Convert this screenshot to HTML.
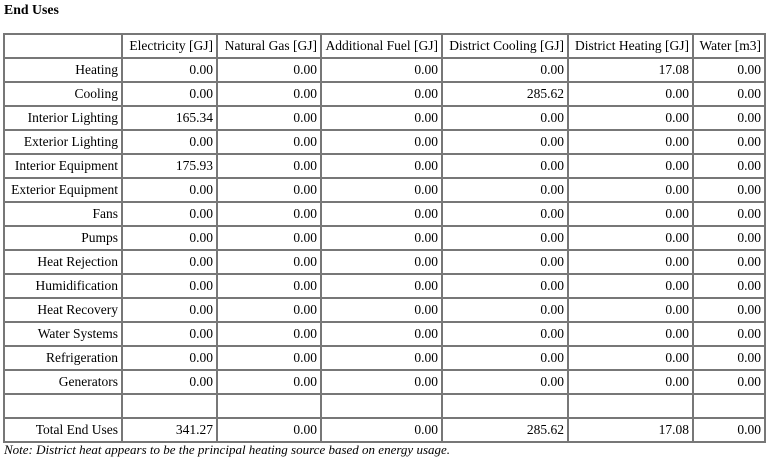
<!DOCTYPE html>
<html><head><meta charset="utf-8"><style>
body{margin:0;background:#fff;font-family:"Liberation Serif",serif;font-size:13.5px;color:#000;}
.t{position:absolute;left:4px;top:2px;font-weight:bold;font-size:13.8px;}
table{position:absolute;left:3px;top:33px;width:761px;border-collapse:collapse;table-layout:fixed;border:2px solid #777;}
td{border:2px solid #777;height:22px;padding:0 3px 0 0;text-align:right;white-space:nowrap;line-height:22px;overflow:hidden;}
.n{position:absolute;left:4px;top:442px;font-style:italic;font-size:13px;}
</style></head><body>
<div class="t">End Uses</div>
<table>
<colgroup><col style="width:118px"><col style="width:95px"><col style="width:104px"><col style="width:121px"><col style="width:126px"><col style="width:125px"><col style="width:72px"></colgroup>
<tr><td></td><td>Electricity [GJ]</td><td>Natural Gas [GJ]</td><td>Additional Fuel [GJ]</td><td>District Cooling [GJ]</td><td>District Heating [GJ]</td><td>Water [m3]</td></tr>
<tr><td>Heating</td><td>0.00</td><td>0.00</td><td>0.00</td><td>0.00</td><td>17.08</td><td>0.00</td></tr>
<tr><td>Cooling</td><td>0.00</td><td>0.00</td><td>0.00</td><td>285.62</td><td>0.00</td><td>0.00</td></tr>
<tr><td>Interior Lighting</td><td>165.34</td><td>0.00</td><td>0.00</td><td>0.00</td><td>0.00</td><td>0.00</td></tr>
<tr><td>Exterior Lighting</td><td>0.00</td><td>0.00</td><td>0.00</td><td>0.00</td><td>0.00</td><td>0.00</td></tr>
<tr><td>Interior Equipment</td><td>175.93</td><td>0.00</td><td>0.00</td><td>0.00</td><td>0.00</td><td>0.00</td></tr>
<tr><td>Exterior Equipment</td><td>0.00</td><td>0.00</td><td>0.00</td><td>0.00</td><td>0.00</td><td>0.00</td></tr>
<tr><td>Fans</td><td>0.00</td><td>0.00</td><td>0.00</td><td>0.00</td><td>0.00</td><td>0.00</td></tr>
<tr><td>Pumps</td><td>0.00</td><td>0.00</td><td>0.00</td><td>0.00</td><td>0.00</td><td>0.00</td></tr>
<tr><td>Heat Rejection</td><td>0.00</td><td>0.00</td><td>0.00</td><td>0.00</td><td>0.00</td><td>0.00</td></tr>
<tr><td>Humidification</td><td>0.00</td><td>0.00</td><td>0.00</td><td>0.00</td><td>0.00</td><td>0.00</td></tr>
<tr><td>Heat Recovery</td><td>0.00</td><td>0.00</td><td>0.00</td><td>0.00</td><td>0.00</td><td>0.00</td></tr>
<tr><td>Water Systems</td><td>0.00</td><td>0.00</td><td>0.00</td><td>0.00</td><td>0.00</td><td>0.00</td></tr>
<tr><td>Refrigeration</td><td>0.00</td><td>0.00</td><td>0.00</td><td>0.00</td><td>0.00</td><td>0.00</td></tr>
<tr><td>Generators</td><td>0.00</td><td>0.00</td><td>0.00</td><td>0.00</td><td>0.00</td><td>0.00</td></tr>
<tr><td></td><td></td><td></td><td></td><td></td><td></td><td></td></tr>
<tr><td>Total End Uses</td><td>341.27</td><td>0.00</td><td>0.00</td><td>285.62</td><td>17.08</td><td>0.00</td></tr>
</table>
<div class="n">Note: District heat appears to be the principal heating source based on energy usage.</div>
</body></html>
